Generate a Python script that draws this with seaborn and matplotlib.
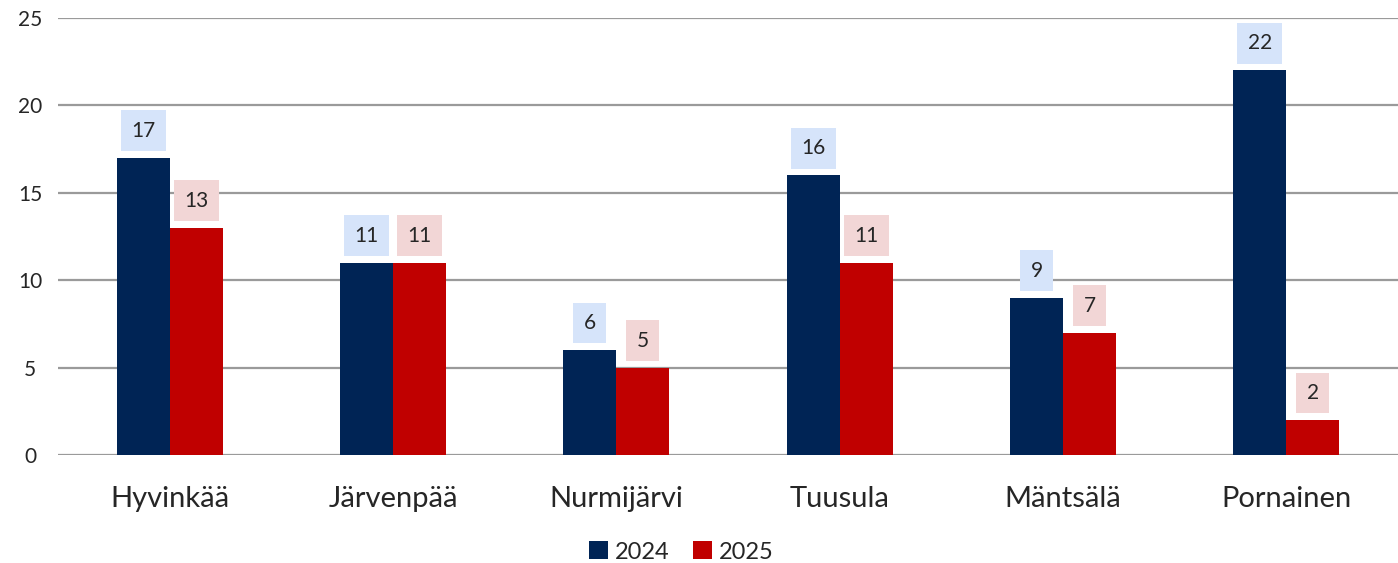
import pandas as pd
import seaborn as sns
import matplotlib.pyplot as plt

# kunnat ja arvot
kunnat = ['Hyvinkää', 'Järvenpää', 'Nurmijärvi', 'Tuusula', 'Mäntsälä', 'Pornainen']
vuodet = ['2024', '2025']
arvot_2024 = [17, 11, 6, 16, 9, 22]
arvot_2025 = [13, 11, 5, 11, 7, 2]

varit = {'2024': '#002455', '2025': '#C00000'}
laatikot = {'2024': '#D6E4FA', '2025': '#F2D6D6'}

df = pd.DataFrame({
    'Kunta': kunnat * 2,
    'Vuosi': ['2024'] * len(kunnat) + ['2025'] * len(kunnat),
    'Arvo': arvot_2024 + arvot_2025,
})

sns.set_style('white')
plt.rcParams['font.family'] = ['Lato', 'DejaVu Sans']

fig = plt.figure(figsize=(13.98, 5.63), dpi=100)
ax = fig.add_axes([58 / 1398, 1 - 455 / 563, 1 - 58 / 1398, (455 - 18) / 563])

sns.barplot(data=df, x='Kunta', y='Arvo', hue='Vuosi', hue_order=vuodet,
            palette=varit, width=0.475, saturation=1, linewidth=0, ax=ax, zorder=3)

# arvolaput laatikoineen
for cont, vuosi in zip(ax.containers, vuodet):
    for bar in cont:
        v = bar.get_height()
        ax.annotate(f'{v:.0f}', (bar.get_x() + bar.get_width() / 2, v),
                    xytext=(0, 19.5), textcoords='offset points',
                    ha='center', va='center', fontsize=15,
                    bbox=dict(boxstyle='square,pad=0.5', fc=laatikot[vuosi], ec='none'))

ax.set_ylim(0, 25)
ax.set_xlim(-0.5, 5.5)
ax.set_yticks(range(0, 26, 5))
ax.yaxis.grid(True, color='#9A9A9A', linewidth=1.6, zorder=0)
ax.set_axisbelow(True)
for s in ax.spines.values():
    s.set_visible(False)
ax.set_xlabel('')
ax.set_ylabel('')
ax.tick_params(axis='y', labelsize=15, length=0, pad=20)
ax.tick_params(axis='x', labelsize=21, length=0, pad=22)
for lab in ax.get_yticklabels():
    lab.set_horizontalalignment('center')

ax.legend(loc='lower center', bbox_to_anchor=(0.465, -0.295), ncol=2, frameon=False,
          fontsize=17, handlelength=0.8, handleheight=0.8, handletextpad=0.3,
          columnspacing=1.0)

plt.savefig('out.png', dpi=100)
